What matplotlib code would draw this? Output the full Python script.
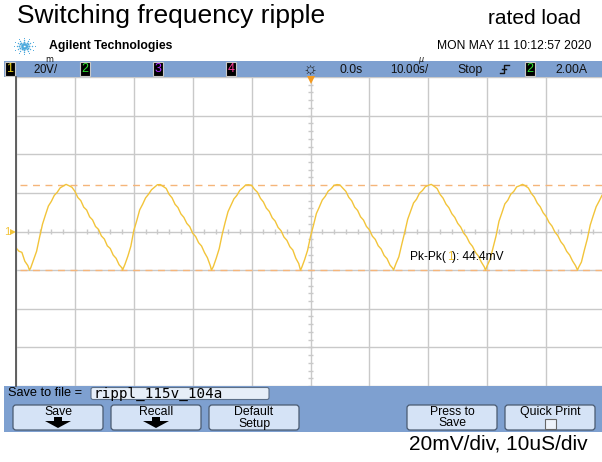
import matplotlib.pyplot as plt
import matplotlib.patches as mpatches
import numpy as np

plt.rcParams['font.family'] = ['Liberation Sans', 'DejaVu Sans']

# channel 1 trace: time in us, level in mV
t_us = [-50.0, -49.5, -49.0, -48.5, -48.0, -47.71,
        -47.5, -47.0, -46.5, -46.0, -45.5, -45.0, -44.5, -44.0, -43.5, -43.0,
        -42.5, -42.0, -41.5, -41.0, -40.5, -40.0, -39.5, -39.0, -38.5, -38.0,
        -37.5, -37.0, -36.5, -36.0, -35.5, -35.0, -34.5, -34.0, -33.5, -33.0,
        -32.5, -32.0, -31.92,
        -31.5, -31.0, -30.5, -30.0, -29.5, -29.0, -28.5, -28.0, -27.5, -27.0,
        -26.5, -26.0, -25.5, -25.0, -24.5, -24.0, -23.5, -23.0, -22.5, -22.0,
        -21.5, -21.0, -20.5, -20.0, -19.5, -19.0, -18.5, -18.0, -17.5, -17.0,
        -16.81,
        -16.5, -16.0, -15.5, -15.0, -14.5, -14.0, -13.5, -13.0, -12.5, -12.0,
        -11.5, -11.0, -10.5, -10.0, -9.5, -9.0, -8.5, -8.0, -7.5, -7.0,
        -6.5, -6.0, -5.5, -5.0, -4.5, -4.0, -3.5, -3.0, -2.5, -2.0, -1.70,
        -1.5, -1.0, -0.5, 0.0, 0.5, 1.0, 1.5, 2.0, 2.5, 3.0,
        3.5, 4.0, 4.5, 5.0, 5.5, 6.0, 6.5, 7.0, 7.5, 8.0,
        8.5, 9.0, 9.5, 10.0, 10.5, 11.0, 11.5, 12.0, 12.5, 13.0,
        13.5, 14.0, 14.09,
        14.5, 15.0, 15.5, 16.0, 16.5, 17.0, 17.5, 18.0, 18.5, 19.0,
        19.5, 20.0, 20.5, 21.0, 21.5, 22.0, 22.5, 23.0, 23.5, 24.0,
        24.5, 25.0, 25.5, 26.0, 26.5, 27.0, 27.5, 28.0, 28.5, 29.0,
        29.5, 29.71,
        30.0, 30.5, 31.0, 31.5, 32.0, 32.5, 33.0, 33.5, 34.0, 34.5,
        35.0, 35.5, 36.0, 36.5, 37.0, 37.5, 38.0, 38.5, 39.0, 39.5,
        40.0, 40.5, 41.0, 41.5, 42.0, 42.5, 43.0, 43.5, 44.0, 44.5,
        45.0, 45.33,
        45.5, 46.0, 46.5, 47.0, 47.5, 48.0, 48.5, 49.0, 49.5, 50.0]
v_mv = [-8.5, -10.2, -10.8, -15.4, -17.6, -20.0,
        -18.8, -14.5, -10.2, -3, 3.8, 8.6, 13.2, 15.6, 18.7, 20.3,
        22.6, 23.5, 24.4, 23.7, 22.9, 20.8, 17.6, 16.0, 12.6, 11.1,
        7.6, 6.0, 2.6, 1.1, -2.3, -3.9, -7.4, -8.8, -12.2, -13.9,
        -17.2, -18.9, -20.0,
        -17, -12.7, -7.6, 0.5, 5.6, 11.2, 14.1, 17.4, 19.3, 21.6,
        22.9, 24.2, 24.3, 23.3, 22.3, 19.2, 17.4, 14.1, 12.4, 9.1,
        7.3, 4.2, 2.5, -0.9, -2.6, -5.8, -7.5, -10.9, -13.6, -17.8,
        -20.0,
        -18.2, -13.8, -8.9, -1.6, 4.6, 10.3, 13.6, 16.9, 18.7, 21.3,
        22.6, 24.1, 24.2, 23.9, 21.8, 20.3, 17.2, 15.3, 12.1, 10.4,
        7.1, 5.4, 2.1, 0.4, -2.9, -4.6, -7.9, -9.6, -13.8, -16.6, -20.0,
        -18.7, -14.6, -9.8, -2.6, 3.2, 9.3, 12.7, 16.3, 18.2, 20.9,
        22.1, 23.9, 24.3, 24.1, 22.4, 20.8, 17.7, 15.9, 12.6, 10.9,
        7.6, 5.9, 2.6, 0.9, -2.4, -4.1, -7.4, -9.1, -12.4, -14.1,
        -17.4, -19.2, -20.0,
        -16.7, -13.1, -6.6, -0.4, 6.3, 10.6, 14.8, 16.7, 19.8, 21.2,
        23.2, 23.9, 24.4, 23.4, 22.2, 19.2, 17.3, 14.2, 12.3, 9.2,
        7.3, 4.2, 2.3, -0.8, -2.7, -5.8, -7.7, -10.8, -12.7, -15.8,
        -18.3, -20.0,
        -17.7, -14.3, -8.2, -2.3, 5.3, 9.7, 14.3, 16.2, 19.3, 20.7,
        23.1, 23.7, 24.4, 23.6, 22.5, 19.7, 17.8, 14.7, 12.8, 9.7,
        7.8, 4.7, 2.8, -0.3, -2.2, -5.3, -7.2, -10.3, -12.2, -15.3,
        -17.7, -20.0,
        -18.7, -15.8, -9.6, -3.8, 3.4, 8.2, 12.8, 15.7, 18.8, 20.2]

cursor_top = 24.3
cursor_bot = -20.0
pk_pk = '44.4mV'

W, H = 602, 462
BLUE = '#7ea0d0'
BTN = '#d5e3f6'
TRACE = '#f2c43a'
CURSOR = '#f5b57a'

fig = plt.figure(figsize=(W / 100, H / 100), dpi=100)

# pixel-space layer for the scope frame
bg = fig.add_axes([0, 0, 1, 1])
bg.set_xlim(0, W)
bg.set_ylim(H, 0)
bg.axis('off')

bg.text(17, 16, 'Switching frequency ripple', fontsize=19, va='center')
bg.text(581, 19, 'rated load', fontsize=15, va='center', ha='right')
bg.text(588, 444, '20mV/div, 10uS/div', fontsize=15, va='center', ha='right')

# agilent spark logo
for ang in np.arange(0, 360, 30):
    a = np.deg2rad(ang)
    for r in (2.5, 5, 7.5, 10.5):
        bg.plot(24 + r * np.cos(a), 46 + 0.8 * r * np.sin(a), 'o',
                color='#4aa8dc', ms=max(0.7, 2.0 - r * 0.13), mew=0)
bg.text(49, 46, 'Agilent Technologies', fontsize=8.8, fontweight='bold', va='center')
bg.text(591, 46, 'MON MAY 11 10:12:57 2020', fontsize=8.7, va='center', ha='right')

# status line
bg.add_patch(mpatches.Rectangle((4, 61), W - 4, 16, color=BLUE, lw=0))
for x0, lab, col in [(5, '1', '#e8d020'), (80, '2', '#30e030'),
                     (153, '3', '#b030ff'), (226, '4', '#ff3c9a'), (525, '2', '#30e030')]:
    bg.add_patch(mpatches.Rectangle((x0, 62), 10, 14, fc='black', ec='#c8c8c8', lw=0.8))
    bg.text(x0 + 5, 69.5, lab, color=col, fontsize=9, ha='center', va='center')
sfont = dict(fontsize=8.8, va='baseline', color='#111111')
YB = 73.3
bg.text(33, YB + 0.6, r'20$\overset{\mathrm{m}}{\mathrm{V}}$/', fontsize=8.3,
        va='baseline', color='#111111')
bg.text(310, 69, '☼', fontsize=12, ha='center', va='center', color='#222222')
bg.text(340, YB, '0.0s', **sfont)
bg.text(390, YB + 0.6, r'10.00$\overset{\mu}{\mathrm{s}}$/', fontsize=8.3,
        va='baseline', color='#111111')
bg.text(457, YB, 'Stop', **sfont)
bg.plot([500, 504, 504, 509], [73, 73, 65, 65], color='#111111', lw=1)
bg.plot([502, 506], [69, 69], color='#111111', lw=1)
bg.text(555, YB, '2.00A', **sfont)

# channel 1 ground marker
bg.text(7, 232, '1', color=TRACE, fontsize=8, ha='center', va='center')
bg.plot(13, 232, '>', color=TRACE, ms=5, mew=0)

# softkey area
bg.add_patch(mpatches.Rectangle((4, 386), W - 4, 46, color=BLUE, lw=0))
bg.text(8, 393.5, 'Save to file =', fontsize=9.2, va='center')
bg.add_patch(mpatches.FancyBboxPatch((91, 387.5), 178, 12,
             boxstyle='round,pad=0,rounding_size=2', fc='#e6eef8', ec='#5c6f88', lw=0.8))
bg.text(94, 394, 'rippl_115v_104a', family='DejaVu Sans Mono', fontsize=10.3, va='center')

buttons = [(13, 'Save', ''), (111, 'Recall', ''), (209, 'Default', 'Setup'),
           (407, 'Press to', 'Save'), (505, 'Quick Print', '')]
for x0, l1, l2 in buttons:
    bg.add_patch(mpatches.FancyBboxPatch((x0, 405), 90, 25,
                 boxstyle='round,pad=0,rounding_size=3', fc=BTN, ec='#4a5a70', lw=0.9))
    bg.text(x0 + 45, 412, l1, fontsize=8.8, ha='center', va='center')
    if l2:
        bg.text(x0 + 45, 423.5, l2, fontsize=8.8, ha='center', va='center')
for cx in (58, 156):
    bg.fill([cx - 4, cx + 4, cx + 4, cx + 13, cx, cx - 13, cx - 4],
            [417, 417, 421, 421, 428, 421, 421], color='black', lw=0)
bg.add_patch(mpatches.Rectangle((545, 419), 11, 10, fc='#eef3fa', ec='#666666', lw=0.8))

# graticule and trace
ax = fig.add_axes([16 / W, 76 / H, 589 / W, 309 / H])
ax.set_xlim(-50, 50)
ax.set_ylim(-80, 80)
ax.set_xticks(np.arange(-50, 51, 10))
ax.set_yticks(np.arange(-80, 81, 20))
ax.tick_params(length=0, labelbottom=False, labelleft=False)
ax.grid(color='#c9c9c9', lw=1)
for s in ('top', 'right', 'bottom'):
    ax.spines[s].set_visible(False)
ax.spines['left'].set_color('#555555')
ax.spines['left'].set_linewidth(1.3)
ax.vlines(np.arange(-50, 50.1, 2), -1.1, 1.1, color='#c9c9c9', lw=1)
ax.hlines(np.arange(-80, 80.1, 4), -0.35, 0.35, color='#c9c9c9', lw=1)

ax.hlines([cursor_top, cursor_bot], -49.3, 50, color=CURSOR, lw=1, linestyles=(0, (5, 4)))
ax.plot(t_us, v_mv, color=TRACE, lw=1)
ax.plot(0, 78.2, 'v', color='#f39a20', ms=6, mew=0, clip_on=False)

ax.text(16.9, -13.2, 'Pk-Pk(', fontsize=8.6, va='center')
ax.text(23.2, -13.2, '1', fontsize=8.6, va='center', color=TRACE)
ax.text(24.1, -13.2, '): ' + pk_pk, fontsize=8.6, va='center')

fig.savefig('out.png', dpi=100)
